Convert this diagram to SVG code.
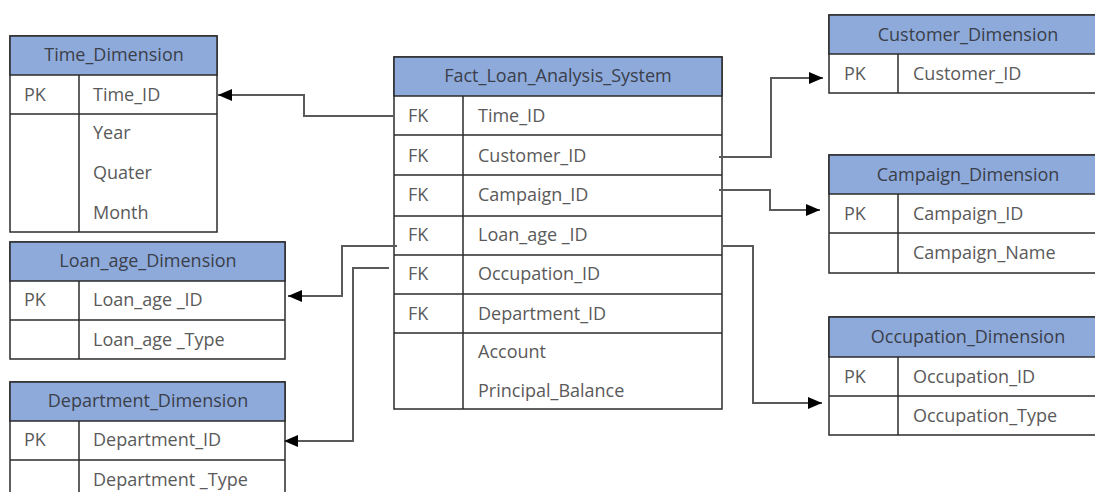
<svg xmlns="http://www.w3.org/2000/svg" width="1095" height="492" viewBox="0 0 1095 492">
  <style>
    .box { fill: #ffffff; stroke: #2b2b2b; stroke-width: 1.5; }
    .head { fill: #8eaadb; stroke: #2b2b2b; stroke-width: 1.5; }
    .rule { stroke: #2b2b2b; stroke-width: 1.5; fill: none; }
    .title { font-family: "Open Sans", "Noto Sans", sans-serif; font-size: 18px; fill: #3a3f4a; text-anchor: middle; }
    .cell { font-family: "Open Sans", "Noto Sans", sans-serif; font-size: 18px; fill: #5a5a5a; }
    .link { fill: none; stroke: #5a5a5a; stroke-width: 2; }
  </style>
  <defs>
    <marker id="arrow" viewBox="0 0 14 12" refX="14" refY="6" markerWidth="14" markerHeight="12" markerUnits="userSpaceOnUse" orient="auto">
      <path d="M0,0 L14,6 L0,12 Z" fill="#000000"/>
    </marker>
  </defs>
  <rect width="1095" height="492" fill="#ffffff"/>

  <!-- Time dimension -->
  <g id="time-dimension">
    <rect class="box" x="10" y="36" width="207" height="196"/>
    <rect class="head" x="10" y="36" width="207" height="39"/>
    <line class="rule" x1="10" y1="114" x2="217" y2="114"/>
    <line class="rule" x1="79" y1="75" x2="79" y2="232"/>
    <text class="title" x="114" y="61">Time_Dimension</text>
    <text class="cell" x="24" y="101">PK</text>
    <text class="cell" x="93" y="101">Time_ID</text>
    <text class="cell" x="93" y="139">Year</text>
    <text class="cell" x="93" y="179">Quater</text>
    <text class="cell" x="93" y="219">Month</text>
  </g>

  <!-- Loan age dimension -->
  <g id="loan-age-dimension">
    <rect class="box" x="10" y="242" width="275" height="117"/>
    <rect class="head" x="10" y="242" width="275" height="39"/>
    <line class="rule" x1="10" y1="320" x2="285" y2="320"/>
    <line class="rule" x1="79" y1="281" x2="79" y2="359"/>
    <text class="title" x="148" y="267">Loan_age_Dimension</text>
    <text class="cell" x="24" y="306">PK</text>
    <text class="cell" x="93" y="306">Loan_age _ID</text>
    <text class="cell" x="93" y="346">Loan_age _Type</text>
  </g>

  <!-- Department dimension -->
  <g id="department-dimension">
    <rect class="box" x="10" y="382" width="275" height="120"/>
    <rect class="head" x="10" y="382" width="275" height="39"/>
    <line class="rule" x1="10" y1="460" x2="285" y2="460"/>
    <line class="rule" x1="79" y1="421" x2="79" y2="502"/>
    <text class="title" x="148" y="407">Department_Dimension</text>
    <text class="cell" x="24" y="446">PK</text>
    <text class="cell" x="93" y="446">Department_ID</text>
    <text class="cell" x="93" y="486">Department _Type</text>
  </g>

  <!-- Fact table -->
  <g id="fact-loan-analysis-system">
    <rect class="box" x="394" y="57" width="328" height="352"/>
    <rect class="head" x="394" y="57" width="328" height="39"/>
    <line class="rule" x1="394" y1="135" x2="722" y2="135"/>
    <line class="rule" x1="394" y1="175" x2="722" y2="175"/>
    <line class="rule" x1="394" y1="216" x2="722" y2="216"/>
    <line class="rule" x1="394" y1="255" x2="722" y2="255"/>
    <line class="rule" x1="394" y1="294" x2="722" y2="294"/>
    <line class="rule" x1="394" y1="333" x2="722" y2="333"/>
    <line class="rule" x1="463" y1="96" x2="463" y2="409"/>
    <text class="title" x="558" y="82">Fact_Loan_Analysis_System</text>
    <text class="cell" x="408" y="122">FK</text>
    <text class="cell" x="478" y="122">Time_ID</text>
    <text class="cell" x="408" y="162">FK</text>
    <text class="cell" x="478" y="162">Customer_ID</text>
    <text class="cell" x="408" y="201">FK</text>
    <text class="cell" x="478" y="201">Campaign_ID</text>
    <text class="cell" x="408" y="241">FK</text>
    <text class="cell" x="478" y="241">Loan_age _ID</text>
    <text class="cell" x="408" y="280">FK</text>
    <text class="cell" x="478" y="280">Occupation_ID</text>
    <text class="cell" x="408" y="320">FK</text>
    <text class="cell" x="478" y="320">Department_ID</text>
    <text class="cell" x="478" y="358">Account</text>
    <text class="cell" x="478" y="397">Principal_Balance</text>
  </g>

  <!-- Customer dimension -->
  <g id="customer-dimension">
    <rect class="box" x="829" y="15" width="278" height="78"/>
    <rect class="head" x="829" y="15" width="278" height="39"/>
    <line class="rule" x1="898" y1="54" x2="898" y2="93"/>
    <text class="title" x="968" y="41">Customer_Dimension</text>
    <text class="cell" x="844" y="80">PK</text>
    <text class="cell" x="913" y="80">Customer_ID</text>
  </g>

  <!-- Campaign dimension -->
  <g id="campaign-dimension">
    <rect class="box" x="829" y="155" width="278" height="118"/>
    <rect class="head" x="829" y="155" width="278" height="39"/>
    <line class="rule" x1="829" y1="233" x2="1107" y2="233"/>
    <line class="rule" x1="898" y1="194" x2="898" y2="273"/>
    <text class="title" x="968" y="181">Campaign_Dimension</text>
    <text class="cell" x="844" y="220">PK</text>
    <text class="cell" x="913" y="220">Campaign_ID</text>
    <text class="cell" x="913" y="259">Campaign_Name</text>
  </g>

  <!-- Occupation dimension -->
  <g id="occupation-dimension">
    <rect class="box" x="829" y="317" width="278" height="118"/>
    <rect class="head" x="829" y="317" width="278" height="40"/>
    <line class="rule" x1="829" y1="396" x2="1107" y2="396"/>
    <line class="rule" x1="898" y1="357" x2="898" y2="435"/>
    <text class="title" x="968" y="343">Occupation_Dimension</text>
    <text class="cell" x="844" y="383">PK</text>
    <text class="cell" x="913" y="383">Occupation_ID</text>
    <text class="cell" x="913" y="422">Occupation_Type</text>
  </g>

  <!-- Foreign key links -->
  <g id="connectors">
    <path class="link" d="M394,116 H304 V95 H218" marker-end="url(#arrow)"/>
    <path class="link" d="M719,157 H771 V78 H823" marker-end="url(#arrow)"/>
    <path class="link" d="M719,190 H770 V210 H820" marker-end="url(#arrow)"/>
    <path class="link" d="M723,246 H753 V403 H822" marker-end="url(#arrow)"/>
    <path class="link" d="M397,246 H342 V296 H288" marker-end="url(#arrow)"/>
    <path class="link" d="M389,268 H353 V441 H284" marker-end="url(#arrow)"/>
  </g>
</svg>
